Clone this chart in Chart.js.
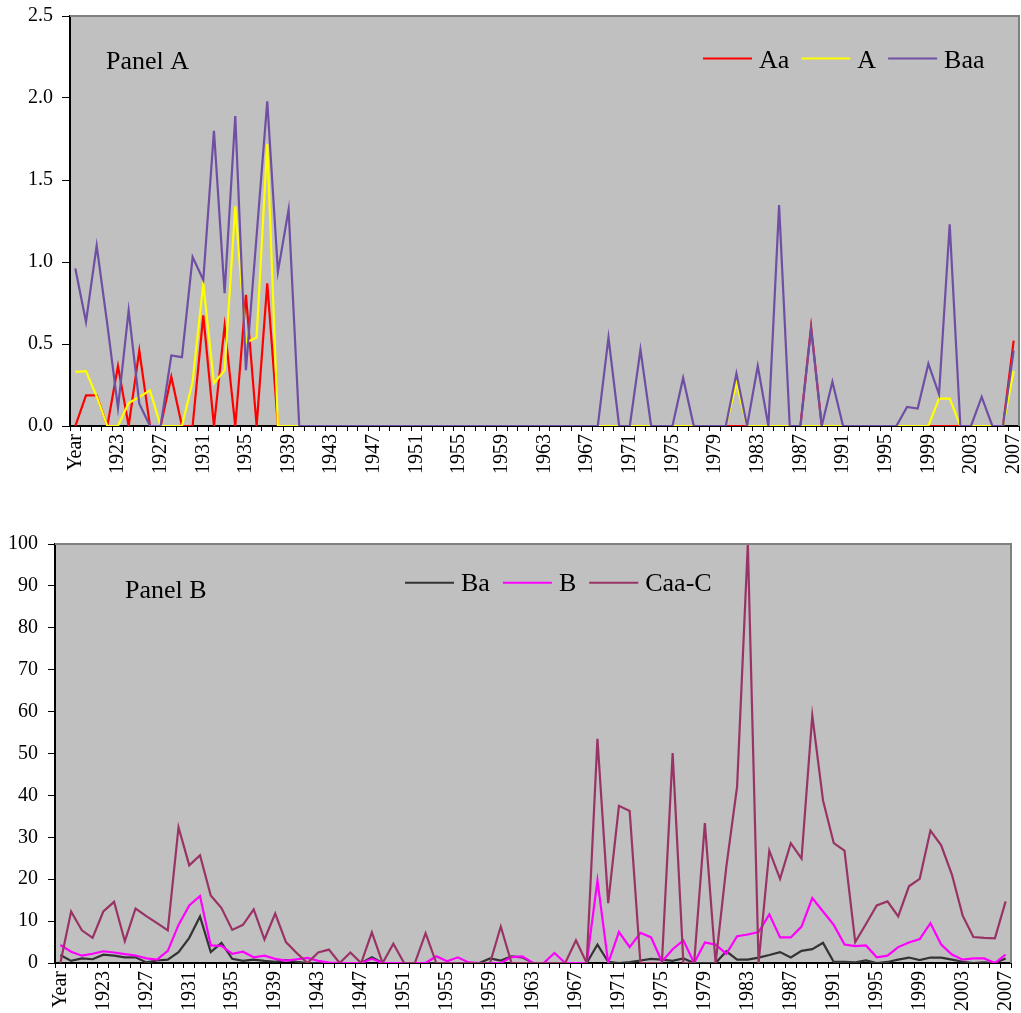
<!DOCTYPE html>
<html>
<head>
<meta charset="utf-8">
<script src="https://cdn.jsdelivr.net/npm/chart.js"></script>
<style>
  html, body { margin: 0; padding: 0; background: #fff; overflow: hidden; }
  #wrapA { position: absolute; left: 0; top: 0; width: 1021px; height: 490px; }
  #wrapB { position: absolute; left: 0; top: 500px; width: 1021px; height: 513px; }
</style>
</head>
<body>
<div id="wrapA"><canvas id="panelA" width="1021" height="490"></canvas></div>
<div id="wrapB"><canvas id="panelB" width="1021" height="513"></canvas></div>
<script>
const years = ['Year',
  '1920','1921','1922','1923','1924','1925','1926','1927','1928','1929',
  '1930','1931','1932','1933','1934','1935','1936','1937','1938','1939',
  '1940','1941','1942','1943','1944','1945','1946','1947','1948','1949',
  '1950','1951','1952','1953','1954','1955','1956','1957','1958','1959',
  '1960','1961','1962','1963','1964','1965','1966','1967','1968','1969',
  '1970','1971','1972','1973','1974','1975','1976','1977','1978','1979',
  '1980','1981','1982','1983','1984','1985','1986','1987','1988','1989',
  '1990','1991','1992','1993','1994','1995','1996','1997','1998','1999',
  '2000','2001','2002','2003','2004','2005','2006','2007'];

// Panel A
const aaValues = [
  0, 0.187, 0.187, 0, 0.366, 0, 0.46, 0, 0, 0.30,
  0, 0, 0.675, 0, 0.61, 0, 0.80, 0, 0.87, 0,
  0, 0, 0, 0, 0, 0, 0, 0, 0, 0,
  0, 0, 0, 0, 0, 0, 0, 0, 0, 0,
  0, 0, 0, 0, 0, 0, 0, 0, 0, 0,
  0, 0, 0, 0, 0, 0, 0, 0, 0, 0,
  0, 0, 0, 0, 0, 0, 0, 0, 0, 0.605,
  0, 0, 0, 0, 0, 0, 0, 0, 0, 0,
  0, 0, 0, 0, 0, 0, 0, 0, 0.52];
const aValues = [
  0.33, 0.335, 0.18, 0, 0, 0.14, 0.177, 0.217, 0, 0,
  0, 0.27, 0.87, 0.26, 0.34, 1.34, 0.51, 0.54, 1.72, 0,
  0, 0, 0, 0, 0, 0, 0, 0, 0, 0,
  0, 0, 0, 0, 0, 0, 0, 0, 0, 0,
  0, 0, 0, 0, 0, 0, 0, 0, 0, 0,
  0, 0, 0, 0, 0, 0, 0, 0, 0, 0,
  0, 0, 0.26, 0, 0, 0, 0, 0, 0, 0,
  0, 0, 0, 0, 0, 0, 0, 0, 0, 0,
  0, 0.167, 0.167, 0, 0, 0, 0, 0, 0.335];
const baaValues = [
  0.96, 0.635, 1.10, 0.62, 0.11, 0.705, 0.136, 0, 0, 0.43,
  0.42, 1.03, 0.89, 1.80, 0.81, 1.89, 0.34, 1.16, 1.98, 0.94,
  1.32, 0, 0, 0, 0, 0, 0, 0, 0, 0,
  0, 0, 0, 0, 0, 0, 0, 0, 0, 0,
  0, 0, 0, 0, 0, 0, 0, 0, 0, 0,
  0.54, 0, 0, 0.466, 0, 0, 0, 0.293, 0, 0,
  0, 0, 0.32, 0, 0.366, 0, 1.347, 0, 0, 0.594,
  0, 0.27, 0, 0, 0, 0, 0, 0, 0.116, 0.106,
  0.38, 0.193, 1.23, 0, 0, 0.177, 0, 0, 0.46];

// Panel B
const baValues = [
  1.9, 0.5, 1.1, 0.9, 2.0, 1.75, 1.35, 1.35, 0.15, 0.6,
  0.8, 2.6, 6.0, 11.1, 2.6, 4.8, 1.0, 0.5, 0.8, 0.5,
  0.3, 0.7, 0.3, 0, 0, 0, 0, 0, 0, 1.35,
  0, 0, 0, 0, 0, 0, 0, 0, 0, 0,
  1.1, 0.6, 1.6, 1.35, 0, 0, 0, 0, 0, 0,
  4.4, 0.3, 0, 0.2, 0.6, 1.0, 0.8, 0.5, 1.1, 0,
  0, 0, 2.8, 0.8, 0.8, 1.3, 1.9, 2.6, 1.3, 2.9,
  3.3, 4.8, 0.25, 0.3, 0.15, 0.6, 0, 0.25, 0.8, 1.3,
  0.7, 1.3, 1.3, 0.8, 0.3, 0, 0.15, 0, 1.1];
const bValues = [
  4.3, 2.7, 1.75, 2.2, 2.8, 2.5, 2.1, 1.8, 1.1, 0.8,
  2.9, 9.1, 13.75, 16.0, 4.2, 4.1, 2.2, 2.7, 1.35, 1.75,
  1.0, 0.55, 0.9, 1.2, 0.5, 0.1, 0, 0, 0, 1.0,
  0, 0, 0, 0, 0, 1.6, 0.4, 1.35, 0.15, 0,
  0, 0, 1.4, 1.6, 0, 0, 2.4, 0, 0, 0,
  19.7, 0, 7.4, 3.8, 7.2, 6.1, 0.3, 3.3, 5.4, 0,
  4.9, 4.4, 2.2, 6.4, 6.8, 7.4, 11.6, 6.1, 6.1, 8.7,
  15.5, 12.3, 9.1, 4.4, 4.05, 4.2, 1.35, 1.75, 3.8, 4.9,
  5.7, 9.5, 4.4, 2.0, 0.8, 1.1, 1.1, 0, 2.0];
const caaValues = [
  0, 12.3, 7.8, 6.0, 12.3, 14.6, 5.2, 13.0, 11.2, 9.5,
  7.8, 32.4, 23.3, 25.7, 16.1, 13.1, 7.9, 9.1, 12.8, 5.6,
  11.8, 5.0, 2.4, 0, 2.5, 3.2, 0, 2.5, 0, 7.3,
  0, 4.6, 0, 0, 7.1, 0, 0, 0, 0, 0,
  0, 8.7, 0, 0, 0, 0, 0, 0, 5.4, 0,
  53.5, 14.3, 37.5, 36.3, 0, 0, 0, 50.1, 0, 0,
  33.4, 0, 23.0, 42.1, 100, 0, 26.8, 20.1, 28.6, 24.9,
  59.1, 38.8, 28.6, 26.8, 5.0, 9.3, 13.75, 14.7, 11.1, 18.3,
  20.1, 31.6, 28.1, 21.1, 11.3, 6.2, 6.0, 5.9, 14.7];

const serif = "'Liberation Serif', 'Times New Roman', serif";
Chart.defaults.font.family = serif;
Chart.defaults.color = '#000';

// grey plot area, grey top/right frame, caption and line legend
const panelFrame = {
  id: 'panelFrame',
  beforeDraw(chart) {
    const { ctx, chartArea: a } = chart;
    ctx.save();
    ctx.fillStyle = '#C0C0C0';
    ctx.fillRect(a.left, a.top, a.right - a.left, a.bottom - a.top);
    ctx.restore();
  },
  afterDraw(chart, args, opts) {
    const { ctx, chartArea: a } = chart;
    ctx.save();
    ctx.strokeStyle = '#808080';
    ctx.lineWidth = 2;
    ctx.beginPath();
    ctx.moveTo(a.left, a.top);
    ctx.lineTo(a.right, a.top);
    ctx.lineTo(a.right, a.bottom);
    ctx.stroke();

    ctx.fillStyle = '#000';
    ctx.font = '26px ' + serif;
    ctx.textBaseline = 'alphabetic';
    ctx.fillText(opts.caption, opts.captionX, opts.captionY);

    let x = opts.legendX;
    chart.data.datasets.forEach(ds => {
      ctx.strokeStyle = ds.borderColor;
      ctx.lineWidth = 2;
      ctx.beginPath();
      ctx.moveTo(x, opts.legendLineY);
      ctx.lineTo(x + 49, opts.legendLineY);
      ctx.stroke();
      x += 49 + 7;
      ctx.fillStyle = '#000';
      ctx.fillText(ds.label, x, opts.legendY);
      x += ctx.measureText(ds.label).width + opts.legendGap;
    });
    ctx.restore();
  }
};

function xAxis(height) {
  return {
    type: 'category',
    offset: true,
    grid: { offset: true, drawOnChartArea: false, drawTicks: true, tickLength: 5, color: '#000', lineWidth: 1 },
    border: { display: true, color: '#000', width: 2 },
    ticks: {
      autoSkip: false, maxRotation: 90, minRotation: 90, padding: 3,
      font: { size: 20 },
      callback: (v, i) => (i % 4 === 0 ? years[i] : '')
    },
    afterFit(scale) {
      scale.height = height;
      scale.paddingLeft = 0;
      scale.paddingRight = 0;
    }
  };
}

function yAxis(max, step, width, tickLen, pad, digits) {
  return {
    min: 0, max: max,
    grid: { drawOnChartArea: false, drawTicks: true, tickLength: tickLen, color: '#000', lineWidth: 1 },
    border: { display: true, color: '#000', width: 2 },
    ticks: { stepSize: step, padding: pad, font: { size: 20 }, callback: v => v.toFixed(digits) },
    afterFit(scale) {
      scale.width = width;
      scale.paddingTop = 0;
      scale.paddingBottom = 0;
    }
  };
}

function line(label, data, color, order) {
  return { label, data, borderColor: color, backgroundColor: color, borderWidth: 2.2,
           pointRadius: 0, tension: 0, fill: false, order };
}

new Chart(document.getElementById('panelA'), {
  type: 'line',
  data: {
    labels: years,
    datasets: [
      line('Aa', aaValues, '#FF0000', 2),
      line('A', aValues, '#FFFF00', 1),
      line('Baa', baaValues, '#6F4FA3', 0)
    ]
  },
  options: {
    responsive: false,
    animation: false,
    layout: { padding: { top: 16, right: 2, left: 0, bottom: 0 } },
    scales: {
      x: xAxis(64),
      y: yAxis(2.5, 0.5, 70, 8, 9, 1)
    },
    plugins: {
      legend: { display: false },
      tooltip: { enabled: false },
      panelFrame: { caption: 'Panel A', captionX: 106, captionY: 69,
                    legendX: 703, legendLineY: 58.5, legendY: 67.5, legendGap: 12 }
    }
  },
  plugins: [panelFrame]
});

new Chart(document.getElementById('panelB'), {
  type: 'line',
  data: {
    labels: years,
    datasets: [
      line('Ba', baValues, '#333333', 2),
      line('B', bValues, '#FF00FF', 1),
      line('Caa-C', caaValues, '#993366', 0)
    ]
  },
  options: {
    responsive: false,
    animation: false,
    layout: { padding: { top: 44, right: 10, left: 0, bottom: 0 } },
    scales: {
      x: xAxis(50),
      y: yAxis(100, 10, 55, 7, 10, 0)
    },
    plugins: {
      legend: { display: false },
      tooltip: { enabled: false },
      panelFrame: { caption: 'Panel B', captionX: 125, captionY: 97.5,
                    legendX: 405, legendLineY: 82.7, legendY: 91, legendGap: 13 }
    }
  },
  plugins: [panelFrame]
});
</script>
</body>
</html>
